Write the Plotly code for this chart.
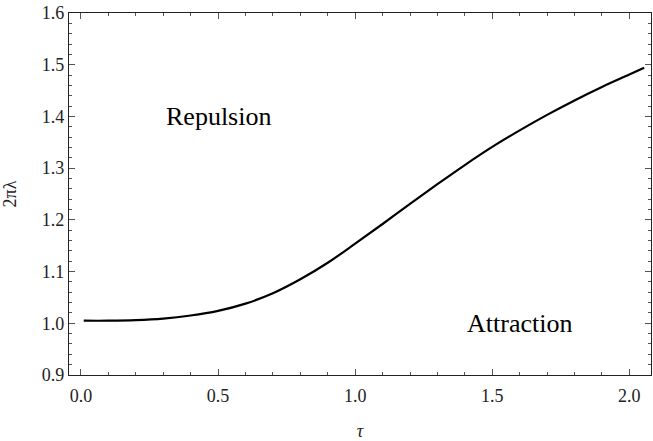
import plotly.graph_objects as go

tau = [0.01, 0.1, 0.2, 0.3, 0.4, 0.5, 0.6, 0.7, 0.8, 0.9, 1.0, 1.1, 1.2, 1.3, 1.4,
       1.5, 1.6, 1.7, 1.8, 1.9, 2.0, 2.054]
lam2pi = [1.005, 1.005, 1.006, 1.009, 1.015, 1.024, 1.038, 1.058, 1.085, 1.117, 1.154,
          1.192, 1.231, 1.269, 1.306, 1.341, 1.373, 1.403, 1.431, 1.457, 1.481, 1.494]

region_labels = ["Repulsion", "Attraction"]
region_x = [0.5, 1.6]
region_y = [1.4, 1.0]

FONT = "Liberation Serif"

fig = go.Figure()
fig.add_trace(go.Scatter(x=tau, y=lam2pi, mode="lines",
                         line=dict(color="black", width=2.2, shape="spline", smoothing=1.0),
                         showlegend=False, hoverinfo="skip"))

for t, x, y in zip(region_labels, region_x, region_y):
    fig.add_annotation(x=x, y=y, text=t, showarrow=False, font=dict(family=FONT, size=26, color="black"))

axis_common = dict(
    showgrid=False, zeroline=False, showline=True, linecolor="#222", linewidth=1.2,
    mirror="ticks", ticks="inside", ticklen=6, tickwidth=1, tickcolor="#555",
    tickfont=dict(family=FONT, size=18, color="#222"),
    tickformat=".1f", automargin=False,
)

fig.update_xaxes(range=[-0.0437, 2.079], tick0=0, dtick=0.5, ticklabelstandoff=4,
                 minor=dict(ticks="inside", ticklen=3, tickcolor="#555", dtick=0.1, tick0=0),
                 title=dict(text="<i>τ</i>", font=dict(family=FONT, size=18, color="#222"), standoff=20),
                 **axis_common)
fig.update_yaxes(range=[0.9, 1.6], tick0=0.9, dtick=0.1,
                 minor=dict(ticks="inside", ticklen=3, tickcolor="#555", dtick=0.02, tick0=0.9),
                 title=dict(text="2πλ", font=dict(family=FONT, size=18, color="#222"), standoff=20),
                 **axis_common)

fig.update_layout(width=653, height=441, margin=dict(l=69, r=2, t=13, b=66),
                  plot_bgcolor="white", paper_bgcolor="white")

fig.write_html("out.html", config={"displayModeBar": False},
               post_script="document.body.style.margin='0';")
